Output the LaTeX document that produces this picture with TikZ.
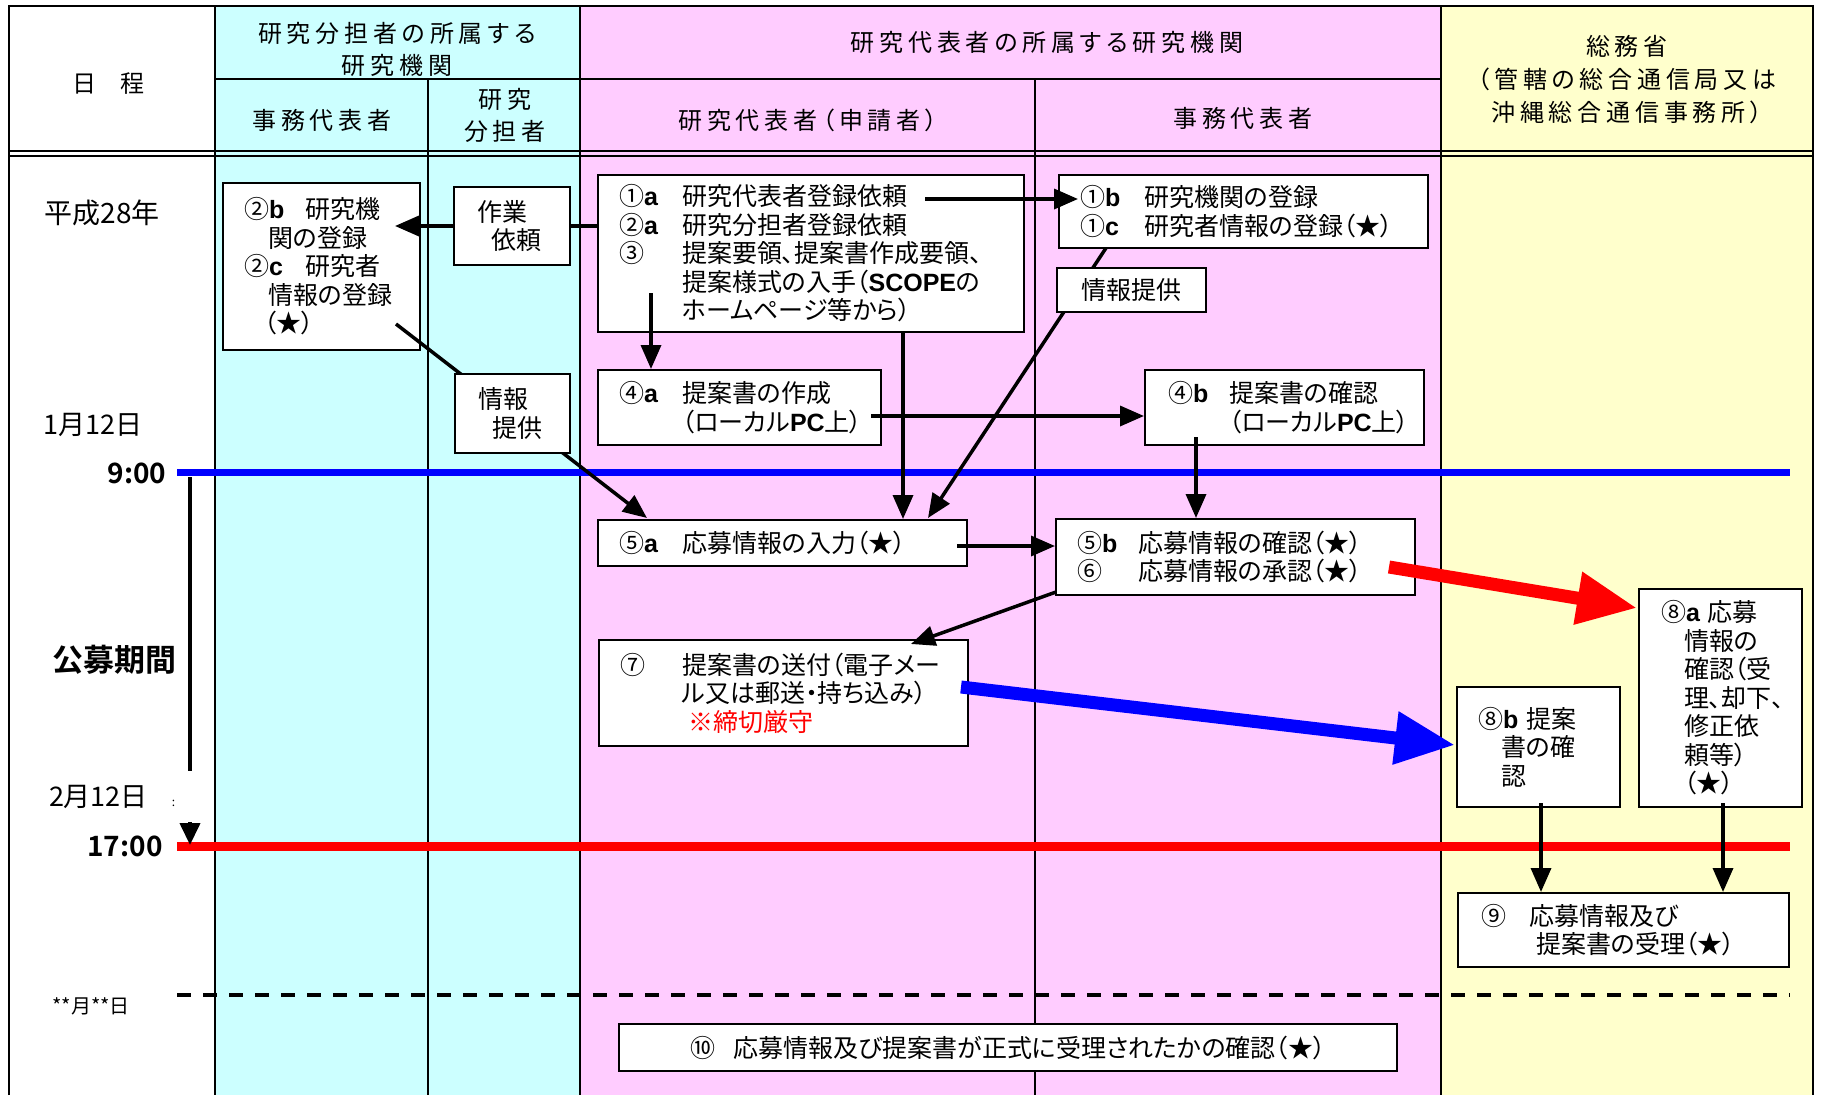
\documentclass[tikz,border=0pt]{standalone}
\usepackage{fontspec}
\setmainfont{Noto Sans CJK JP}[RawFeature=+palt,BoldFont={Noto Sans CJK JP Bold}]
\newfontfamily\jphead{Noto Sans CJK JP}[RawFeature=+palt,LetterSpace=20]
\newfontfamily\lat{Liberation Sans}
\usetikzlibrary{arrows.meta}

\definecolor{colcyan}{RGB}{204,255,255}
\definecolor{colpink}{RGB}{255,204,255}
\definecolor{colyellow}{RGB}{255,255,204}

\newcommand{\ab}[1]{{\lat\bfseries #1}}
\newcommand{\nm}[2]{\makebox[#1][l]{#2}}

\tikzset{
  box/.style={draw, line width=2pt, fill=white, align=left, inner ysep=0pt,
    font=\fontsize{25}{28.5}\selectfont},
  head/.style={align=center, font=\jphead\fontsize{24}{32}\selectfont},
  day/.style={font=\fontsize{27}{30}\selectfont},
  hour/.style={font=\bfseries\fontsize{28}{30}\selectfont},
  arr/.style={line width=3.5pt, -{Triangle[length=24pt,width=20pt]}},
  fat/.style={line width=13pt, -{Triangle[length=60pt,width=50pt]}},
  grid/.style={line width=1.5pt},
}

\begin{document}
\begin{tikzpicture}[x=1pt,y=-1pt]
\useasboundingbox (0,0) rectangle (1825,1095);

% lanes
\fill[colcyan] (215,6) rectangle (580,1095);
\fill[colpink] (580,6) rectangle (1441,1095);
\fill[colyellow] (1441,6) rectangle (1813,1095);
\draw[grid] (9,1095) -- (9,6) -- (1813,6) -- (1813,1095);
\foreach \x in {215,580,1441}
  \draw[grid] (\x,6) -- (\x,1095);
\foreach \x in {428,1035}
  \draw[grid] (\x,79) -- (\x,1095);
\draw[line width=2pt] (215,79) -- (1441,79);
\draw[grid] (9,151) -- (1813,151);
\draw[grid] (9,156) -- (1813,156);

% header
\node[head] (hdate) at (108,84) {日\hspace{1em}程};
\node[head] (hsub) at (397,49) {研究分担者の所属する\\研究機関};
\node[head] (hrep) at (1047,42) {研究代表者の所属する研究機関};
\node[head] (hoffa) at (322,120) {事務代表者};
\node[head] (hres) at (505,115) {研究\\分担者};
\node[head] (happ) at (808,120) {研究代表者（申請者）};
\node[head] (hoffb) at (1243,118) {事務代表者};
\node[head, font=\jphead\fontsize{24}{33}\selectfont] (hmic) at (1627,80)
  {総務省\\（管轄の総合通信局又は\\沖縄総合通信事務所）};

% schedule
\node[day, font=\fontsize{28}{30}\selectfont] (year) at (102,213) {平成28年};
\node[day] (dopen) at (93,425) {1月12日};
\node[hour] (topen) at (137,473) {9:00};
\node[font=\bfseries\fontsize{31}{34}\selectfont] (period) at (114,660) {公募期間};
\node[hour] (tclose) at (125,846) {17:00};
\node[font=\fontsize{20}{22}\selectfont] (dlater) at (91,1006) {**月**日};

\draw[blue, line width=7pt] (177,472) -- (1790,472);
\draw[red, line width=9pt] (177,846) -- (1790,846);
\draw[line width=3.5pt, dash pattern=on 14pt off 12pt] (177,995) -- (1790,995);

\coordinate (popen) at (190,477);
\coordinate (pclose) at (190,845);
\draw[line width=4pt, -{Triangle[length=22pt,width=20pt]}] (popen) -- (pclose);
\node[day, fill=white, minimum width=169, minimum height=51, text width=161pt,
  inner xsep=4pt, align=left] (dclose) at (128.5,796.5)
  {\hspace*{1pt}2月12日\hspace{24pt}{\fontsize{12}{12}\selectfont :}};

% boxes
\node[box, minimum width=197, minimum height=167, inner xsep=21pt, text width=155pt] (subreg) at (321.5,266.5)
  {\nm{61pt}{②\ab{b}}研究機\\
   \hspace*{24pt}関の登録\\
   \nm{61pt}{②\ab{c}}研究者\\
   \hspace*{24pt}情報の登録\\
   \hspace*{20pt}（★）};
\node[box, minimum width=426, minimum height=157, inner xsep=21pt, text width=384pt] (apply) at (811,253.5)
  {\nm{63pt}{①\ab{a}}研究代表者登録依頼\\
   \nm{63pt}{②\ab{a}}研究分担者登録依頼\\
   \nm{63pt}{③}提案要領、提案書作成要領、\\
   \hspace*{63pt}提案様式の入手（\ab{SCOPE}の\\
   \hspace*{63pt}ホームページ等から）};
\node[box, minimum width=369, minimum height=73, inner xsep=21pt, text width=327pt] (orgreg) at (1243.5,211.5)
  {\nm{64pt}{①\ab{b}}研究機関の登録\\
   \nm{64pt}{①\ab{c}}研究者情報の登録（★）};

\draw[arr] (apply.west |- 0,226) -- (395,226);
\coordinate (subout) at (396,324);
\coordinate (orgout) at (1106,248);

\node[box, minimum width=283, minimum height=75, inner xsep=21pt, text width=241pt] (drafta) at (739.5,407.5)
  {\nm{63pt}{④\ab{a}}提案書の作成\\
   \hspace*{63pt}（ローカル\ab{PC}上）};
\node[box, minimum width=279, minimum height=75, inner xsep=23pt, text width=233pt] (draftb) at (1284.5,407.5)
  {\nm{61pt}{④\ab{b}}提案書の確認\\
   \hspace*{61pt}（ローカル\ab{PC}上）};
\node[box, minimum width=369, minimum height=46, inner xsep=21pt, text width=327pt] (inputa) at (782.5,543)
  {\nm{63pt}{⑤\ab{a}}応募情報の入力（★）};
\node[box, minimum width=359, minimum height=76, inner xsep=21pt, text width=317pt] (checkb) at (1235.5,557)
  {\nm{61pt}{⑤\ab{b}}応募情報の確認（★）\\
   \nm{61pt}{⑥}応募情報の承認（★）};
\node[box, minimum width=369, minimum height=106, inner xsep=21pt, text width=327pt] (send) at (783.5,693)
  {\nm{62pt}{⑦}提案書の送付（電子メー\\
   \hspace*{62pt}ル又は郵送・持ち込み）\\
   \hspace*{68pt}\textcolor{red}{※締切厳守}};
\node[box, minimum width=163, minimum height=120, inner xsep=21pt, text width=121pt] (mproposal) at (1538.5,747)
  {⑧\ab{b}\hspace{8pt}提案\\
   \hspace*{23pt}書の確\\
   \hspace*{23pt}認};
\node[box, minimum width=163, minimum height=218, inner xsep=22pt, text width=119pt] (minfo) at (1720.5,698)
  {⑧\ab{a}\hspace{8pt}応募\\
   \hspace*{23pt}情報の\\
   \hspace*{23pt}確認（受\\
   \hspace*{23pt}理、却下、\\
   \hspace*{23pt}修正依\\
   \hspace*{23pt}頼等）\\
   \hspace*{23pt}（★）};
\node[box, minimum width=331, minimum height=74, inner xsep=23pt, text width=285pt] (accept) at (1623.5,930)
  {\nm{48pt}{⑨}応募情報及び\\
   \hspace*{55pt}提案書の受理（★）};
\node[box, minimum width=778, minimum height=47] (confirm) at (1008,1047.5)
  {⑩\hspace{18pt}応募情報及び提案書が正式に受理されたかの確認（★）};

% connectors passing behind labels
\draw[arr] (subout) -- (647,518);
\draw[arr] (orgout) -- (928,518);
\node[box, minimum width=116, minimum height=78, inner xsep=23pt, text width=70pt] (request) at (512,226)
  {作業\\ \hspace*{14pt}依頼};
\node[box, minimum width=115, minimum height=79, inner xsep=23pt, text width=69pt] (infoa) at (512.5,413.5)
  {情報\\ \hspace*{14pt}提供};
\node[box, minimum width=149, minimum height=44] (infob) at (1131.5,290) {情報提供};

% connectors
\draw[arr] (925,199) -- (1078,199);
\draw[arr] (651,293) -- (651,293 |- drafta.north);
\draw[arr] (903,332) -- (903,332 |- inputa.north);
\draw[arr] (871,416) -- (871,416 -| draftb.west);
\draw[arr] (1196,437) -- (1196,437 |- checkb.north);
\draw[arr] (957,546) -- (957,546 -| checkb.west);
\draw[arr] (1056,592) -- (911,644);
\draw[arr] (1541,803) -- (1541,803 |- accept.north);
\draw[arr] (1723,803) -- (1723,803 |- accept.north);
\draw[fat, red] (1389,567) -- (1637,608);
\draw[fat, blue] (961,687) -- (1455,745);
\end{tikzpicture}
\end{document}
